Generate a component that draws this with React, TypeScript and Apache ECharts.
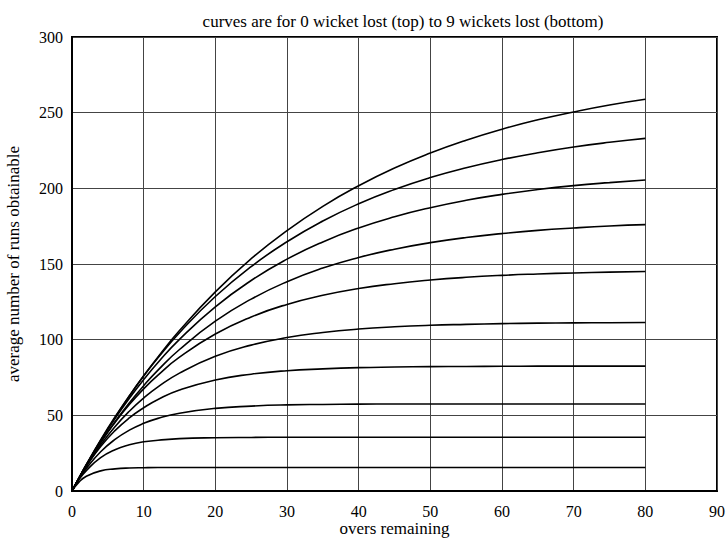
import React, { useEffect, useRef } from "react";
import * as echarts from "echarts";

const oversRemaining = [0, 1, 2, 4, 6, 8, 10, 12, 15, 20, 25, 30, 35, 40, 45, 50, 55, 60, 65, 70, 75, 80];

const wickets0 = [0, 8.7, 17.2, 33.3, 48.5, 62.7, 76.1, 88.6, 106.0, 131.6, 153.5, 172.1, 188.1, 201.7, 213.4, 223.3, 231.8, 239.1, 245.3, 250.5, 255.1, 258.9];
const wickets1 = [0, 8.9, 17.5, 33.8, 48.9, 62.9, 76.0, 88.1, 104.6, 128.5, 148.3, 164.7, 178.4, 189.8, 199.2, 207.1, 213.6, 219.0, 223.5, 227.3, 230.4, 233.0];
const wickets2 = [0, 8.8, 17.3, 33.2, 47.9, 61.3, 73.6, 84.9, 100.2, 121.7, 139.1, 153.2, 164.6, 173.8, 181.2, 187.2, 192.1, 196.0, 199.2, 201.8, 203.8, 205.5];
const wickets3 = [0, 8.6, 16.8, 32.0, 45.7, 58.2, 69.6, 79.9, 93.5, 112.2, 126.8, 138.3, 147.3, 154.3, 159.8, 164.1, 167.5, 170.1, 172.2, 173.8, 175.1, 176.0];
const wickets4 = [0, 8.8, 17.0, 32.1, 45.3, 57.1, 67.5, 76.6, 88.4, 103.7, 115.0, 123.3, 129.3, 133.8, 137.0, 139.4, 141.2, 142.5, 143.4, 144.1, 144.6, 145.0];
const wickets5 = [0, 8.6, 16.5, 30.5, 42.5, 52.7, 61.4, 68.8, 77.9, 89.0, 96.4, 101.4, 104.7, 107.0, 108.5, 109.5, 110.1, 110.6, 110.9, 111.1, 111.2, 111.3];
const wickets6 = [0, 8.6, 16.3, 29.4, 39.9, 48.3, 55.0, 60.5, 66.7, 73.4, 77.2, 79.5, 80.7, 81.5, 81.9, 82.2, 82.3, 82.4, 82.5, 82.5, 82.5, 82.5];
const wickets7 = [0, 8.0, 14.9, 25.9, 34.1, 40.2, 44.7, 48.0, 51.4, 54.6, 56.1, 56.9, 57.2, 57.4, 57.5, 57.5, 57.5, 57.5, 57.5, 57.5, 57.5, 57.5];
const wickets8 = [0, 7.8, 13.5, 22.0, 27.3, 30.5, 32.5, 33.5, 34.6, 35.2, 35.4, 35.5, 35.5, 35.5, 35.5, 35.5, 35.5, 35.5, 35.5, 35.5, 35.5, 35.5];
const wickets9 = [0, 6.0, 9.8, 13.3, 14.6, 15.2, 15.4, 15.5, 15.5, 15.5, 15.5, 15.5, 15.5, 15.5, 15.5, 15.5, 15.5, 15.5, 15.5, 15.5, 15.5, 15.5];

const allCurves = [wickets0, wickets1, wickets2, wickets3, wickets4, wickets5, wickets6, wickets7, wickets8, wickets9];

const titleText = "curves are for 0 wicket lost (top) to 9 wickets lost (bottom)";
const xName = "overs remaining";
const yName = "average number of runs obtainable";

const FONT = "'Liberation Serif', 'DejaVu Serif', serif";

export default function App() {
  const ref = useRef<HTMLDivElement>(null);
  useEffect(() => {
    if (!ref.current) return;
    const chart = echarts.init(ref.current, undefined, { renderer: "svg" });
    chart.setOption({
      animation: false,
      backgroundColor: "#fff",
      title: {
        text: titleText,
        left: 398,
        top: 8,
        textAlign: "center",
        textStyle: { fontFamily: FONT, fontSize: 17, fontWeight: "normal", color: "#000" },
      },
      grid: {
        left: 72,
        right: 10,
        top: 37,
        bottom: 47,
        outerBoundsMode: "none",
        containLabel: false,
        show: true,
        borderColor: "#000",
        borderWidth: 2,
        backgroundColor: "transparent",
      },
      xAxis: {
        type: "value",
        min: 0,
        max: 90,
        interval: 10,
        name: xName,
        nameLocation: "middle",
        nameGap: 29,
        nameMoveOverlap: false,
        nameTextStyle: { fontFamily: FONT, fontSize: 17, color: "#000", lineHeight: 17 },
        axisLine: { show: true, lineStyle: { color: "#000", width: 2 } },
        axisTick: { show: false },
        axisLabel: { fontFamily: FONT, fontSize: 16, color: "#000", margin: 12 },
        splitLine: { show: true, lineStyle: { color: "#444", width: 1 } },
      },
      yAxis: {
        type: "value",
        min: 0,
        max: 300,
        interval: 50,
        name: yName,
        nameLocation: "middle",
        nameGap: 50,
        nameRotate: 90,
        nameMoveOverlap: false,
        nameTextStyle: { fontFamily: FONT, fontSize: 17, color: "#000", lineHeight: 17 },
        axisLine: { show: true, lineStyle: { color: "#000", width: 2 } },
        axisTick: { show: false },
        axisLabel: { fontFamily: FONT, fontSize: 16, color: "#000", margin: 9 },
        splitLine: { show: true, lineStyle: { color: "#444", width: 1 } },
      },
      series: allCurves.map((vals, i) => ({
        name: `${i} wickets lost`,
        type: "line",
        smooth: true,
        showSymbol: false,
        symbol: "none",
        lineStyle: { color: "#000", width: 1.6 },
        data: oversRemaining.map((o, j) => [o, vals[j]]),
      })),
    });
    return () => chart.dispose();
  }, []);
  return <div ref={ref} style={{ width: 727, height: 538, position: "absolute", left: 0, top: 0 }} />;
}
